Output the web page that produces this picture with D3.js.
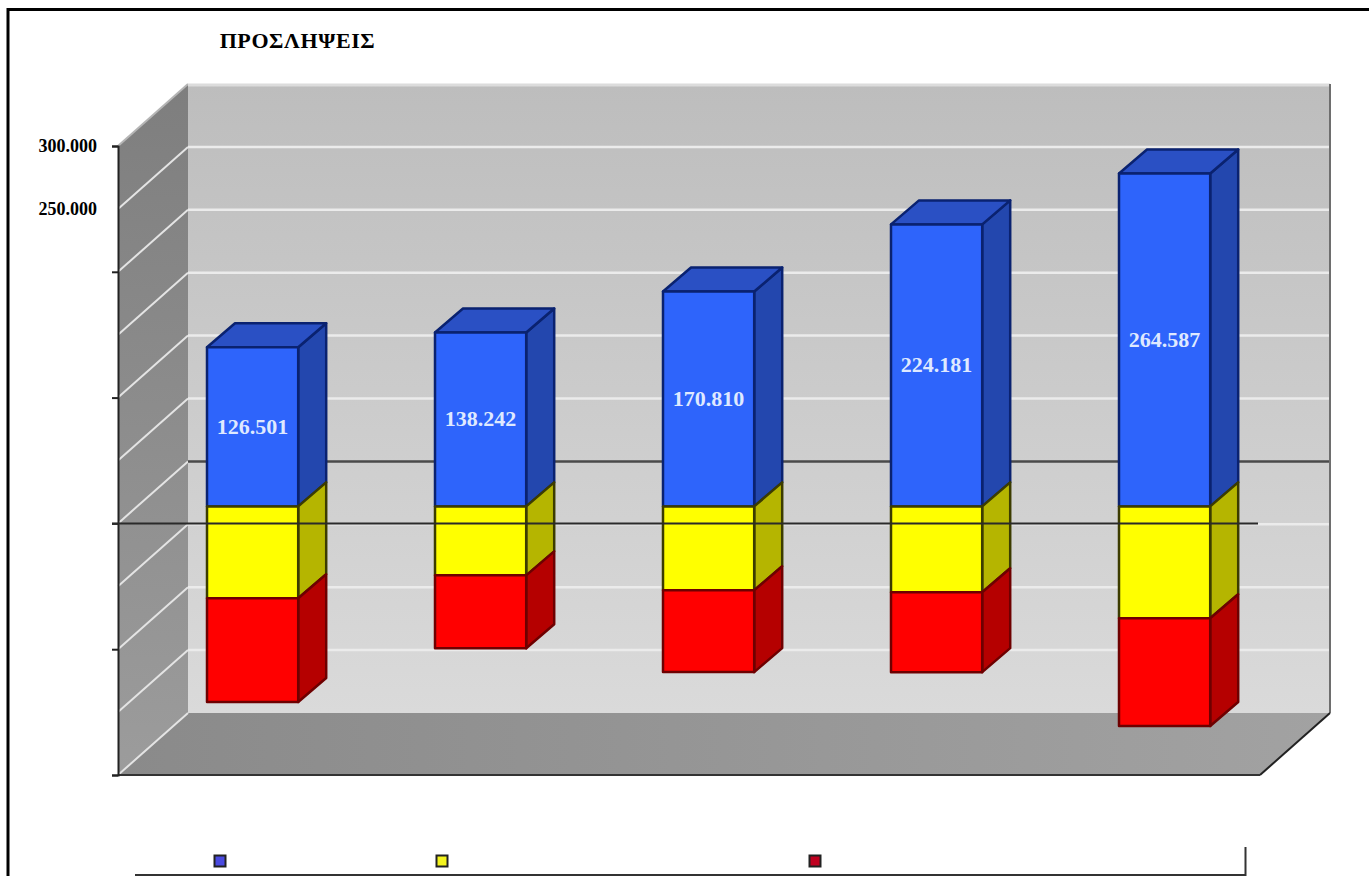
<!DOCTYPE html>
<html>
<head>
<meta charset="utf-8">
<script src="https://cdn.jsdelivr.net/npm/d3@7"></script>
<style>
html, body { margin: 0; padding: 0; background: #fff; overflow: hidden; }
svg { display: block; }
text { font-family: "Liberation Serif", serif; font-weight: bold; }
</style>
</head>
<body>
<svg id="chart" width="1369" height="876"></svg>
<script>
var titleText = 'ΠΡΟΣΛΗΨΕΙΣ';
var periods = [0, 1, 2, 3, 4];
var blueValues = [126501, 138242, 170810, 224181, 264587];
var yellowValues = [-73000, -54800, -66700, -68250, -88900];
var redValues = [-82500, -58000, -65000, -63500, -85700];
var seriesNames = ['blue', 'yellow', 'red'];
var gridValues = [250000, 200000, 150000, 100000, 50000, -50000, -100000, -150000];
var tickValues = [300000, 250000, 200000, 150000, 100000, 50000, 0, -50000, -100000, -150000, -200000];
var labelledTicks = [300000, 250000];

var colors = {
	blue: { front: '#2e64fb', side: '#2347ae', top: '#2a50c4', line: '#0a2270' },
	yellow: { front: '#ffff00', side: '#b5b500', top: '#b5b500', line: '#3c3c00' },
	red: { front: '#ff0000', side: '#b50000', top: '#b50000', line: '#6e0000' }
};

var svg = d3.select('#chart');
var fmt = d3.format(',');
function dotted(v){ return fmt(v).replace(/,/g, '.'); }

// front plane of the box, the back wall sits wallDx / wallDy behind it
var y = d3.scaleLinear().domain([-200000, 300000]).range([775, 146]);
var left = 118, right = 1260, wallDx = 70, wallDy = -62;

// bars stand a little way into the box
var barShift = -17, depthX = 28, depthY = -24;
var x = d3.scaleBand().domain(periods).range([138.6, 1278.6]).paddingInner(0.6).paddingOuter(0.3);

var rows = periods.map(function(p, i){
	return { period: p, blue: blueValues[i], yellow: yellowValues[i], red: redValues[i] };
});
var stacked = d3.stack().keys(seriesNames).offset(d3.stackOffsetDiverging)(rows);

var defs = svg.append('defs');
function gradient(id, horizontal, from, to){
	var g = defs.append('linearGradient').attr('id', id)
		.attr('x1', 0).attr('y1', 0)
		.attr('x2', horizontal ? 1 : 0).attr('y2', horizontal ? 0 : 1);
	g.append('stop').attr('offset', 0).attr('stop-color', from);
	g.append('stop').attr('offset', 1).attr('stop-color', to);
}
gradient('wallGrad', false, '#bdbdbd', '#dadada');
gradient('sideGrad', false, '#7e7e7e', '#9c9c9c');
gradient('floorGrad', true, '#8a8a8a', '#a2a2a2');

function poly(pts){ return pts.map(function(p){ return p.join(','); }).join(' '); }

// page frame
svg.append('path').attr('d', 'M8,876V9.5H1369').attr('fill', 'none').attr('stroke', '#000').attr('stroke-width', 3);

// title
svg.append('text').attr('x', 297.5).attr('y', 48).attr('text-anchor', 'middle')
	.attr('font-size', 22).attr('letter-spacing', 0.6).text(titleText);

// box: back wall, side wall, floor
var yTop = y(300000), yBot = y(-200000);
svg.append('polygon').attr('fill', 'url(#wallGrad)')
	.attr('points', poly([[left + wallDx, yTop + wallDy], [right + wallDx, yTop + wallDy], [right + wallDx, yBot + wallDy], [left + wallDx, yBot + wallDy]]));
svg.append('polygon').attr('fill', 'url(#sideGrad)')
	.attr('points', poly([[left, yTop], [left + wallDx, yTop + wallDy], [left + wallDx, yBot + wallDy], [left, yBot]]));
svg.append('polygon').attr('fill', 'url(#floorGrad)')
	.attr('points', poly([[left, yBot], [left + wallDx, yBot + wallDy], [right + wallDx, yBot + wallDy], [right, yBot]]));

// gridlines
var grid = svg.append('g');
grid.selectAll('.wall').data(gridValues).join('line')
	.attr('x1', left + wallDx).attr('x2', right + wallDx)
	.attr('y1', function(d){ return y(d) + wallDy; }).attr('y2', function(d){ return y(d) + wallDy; })
	.attr('stroke', '#ebebeb').attr('stroke-width', 2.5);
grid.selectAll('.side').data(gridValues.concat([-200000, 300000])).join('line')
	.attr('x1', left).attr('x2', left + wallDx)
	.attr('y1', function(d){ return y(d); }).attr('y2', function(d){ return y(d) + wallDy; })
	.attr('stroke', function(d){ return d === 300000 ? '#b5b5b5' : '#e4e4e4'; }).attr('stroke-width', 2);
grid.append('line')
	.attr('x1', left).attr('x2', left + wallDx)
	.attr('y1', y(0)).attr('y2', y(0) + wallDy)
	.attr('stroke', '#e4e4e4').attr('stroke-width', 2);
// zero line on the back wall
grid.append('line')
	.attr('x1', left + wallDx).attr('x2', right + wallDx)
	.attr('y1', y(0) + wallDy).attr('y2', y(0) + wallDy)
	.attr('stroke', '#4a4a4a').attr('stroke-width', 2.5);
// light top edge and dark right edge of the wall
svg.append('line').attr('x1', left + wallDx).attr('x2', right + wallDx)
	.attr('y1', yTop + wallDy + 1).attr('y2', yTop + wallDy + 1)
	.attr('stroke', '#dcdcdc').attr('stroke-width', 3);
svg.append('line').attr('x1', right + wallDx).attr('x2', right + wallDx)
	.attr('y1', yTop + wallDy).attr('y2', yBot + wallDy)
	.attr('stroke', '#6e6e6e').attr('stroke-width', 2);
svg.append('line').attr('x1', right + wallDx).attr('x2', right)
	.attr('y1', yBot + wallDy).attr('y2', yBot)
	.attr('stroke', '#222').attr('stroke-width', 2);
svg.append('line').attr('x1', left).attr('x2', right)
	.attr('y1', yBot).attr('y2', yBot)
	.attr('stroke', '#333').attr('stroke-width', 2);

// axis
var axis = d3.axisLeft(y).tickValues(tickValues).tickSize(6)
	.tickFormat(function(d){ return labelledTicks.indexOf(d) >= 0 ? dotted(d) : ''; });
var axisG = svg.append('g').attr('transform', 'translate(' + left + ',0)').call(axis);
axisG.select('.domain').attr('stroke', '#222').attr('stroke-width', 2);
axisG.selectAll('.tick').filter(function(d){ return Math.abs(d) % 100000 !== 0; }).select('line').remove();
axisG.selectAll('.tick line').attr('stroke', '#222').attr('stroke-width', 2);
axisG.selectAll('text').attr('x', -21).attr('font-size', 18).attr('fill', '#000')
	.style('font-family', '"Liberation Serif", serif').style('font-weight', 'bold');

// bars
function barY(v){ return y(v) + barShift; }
var layers = svg.append('g').selectAll('g').data(stacked).join('g');
layers.each(function(layer){
	var c = colors[layer.key];
	var g = d3.select(this);
	var segs = g.selectAll('g').data(layer).join('g')
		.attr('stroke', c.line).attr('stroke-width', 2.5).attr('stroke-linejoin', 'round');
	segs.append('polygon').attr('fill', c.side).attr('points', function(d){
		var x1 = x(d.data.period) + x.bandwidth();
		return poly([[x1, barY(d[1])], [x1 + depthX, barY(d[1]) + depthY], [x1 + depthX, barY(d[0]) + depthY], [x1, barY(d[0])]]);
	});
	if (layer.key === 'blue') {
		segs.append('polygon').attr('fill', c.top).attr('points', function(d){
			var x0 = x(d.data.period), x1 = x0 + x.bandwidth();
			return poly([[x0, barY(d[1])], [x0 + depthX, barY(d[1]) + depthY], [x1 + depthX, barY(d[1]) + depthY], [x1, barY(d[1])]]);
		});
	}
	segs.append('rect').attr('fill', c.front)
		.attr('x', function(d){ return x(d.data.period); })
		.attr('width', x.bandwidth())
		.attr('y', function(d){ return barY(d[1]); })
		.attr('height', function(d){ return barY(d[0]) - barY(d[1]); });
});

// front zero line crosses over the bars
svg.append('line').attr('x1', left - 6).attr('x2', right - 2)
	.attr('y1', y(0)).attr('y2', y(0))
	.attr('stroke', '#2a2a2a').attr('stroke-width', 2);

// value labels on the blue bars
svg.append('g').selectAll('text').data(stacked[0]).join('text')
	.attr('x', function(d){ return x(d.data.period) + x.bandwidth() / 2; })
	.attr('y', function(d){ return (barY(d[0]) + barY(d[1])) / 2 + 7; })
	.attr('text-anchor', 'middle').attr('font-size', 22).attr('fill', '#dfe9ff')
	.text(function(d){ return dotted(d.data.blue); });

// legend keys and box edge
var legendX = d3.scaleOrdinal().domain(seriesNames).range([220, 442, 815]);
var legendFill = d3.scaleOrdinal().domain(seriesNames).range(['#4a4ae0', '#f4f41e', '#c00020']);
svg.append('g').selectAll('rect').data(seriesNames).join('rect')
	.attr('x', function(d){ return legendX(d) - 5.5; }).attr('y', 855.5)
	.attr('width', 11).attr('height', 11)
	.attr('fill', function(d){ return legendFill(d); })
	.attr('stroke', '#222').attr('stroke-width', 2);
svg.append('path').attr('d', 'M135,875H1245.5V847').attr('fill', 'none').attr('stroke', '#333').attr('stroke-width', 2);
</script>
</body>
</html>
